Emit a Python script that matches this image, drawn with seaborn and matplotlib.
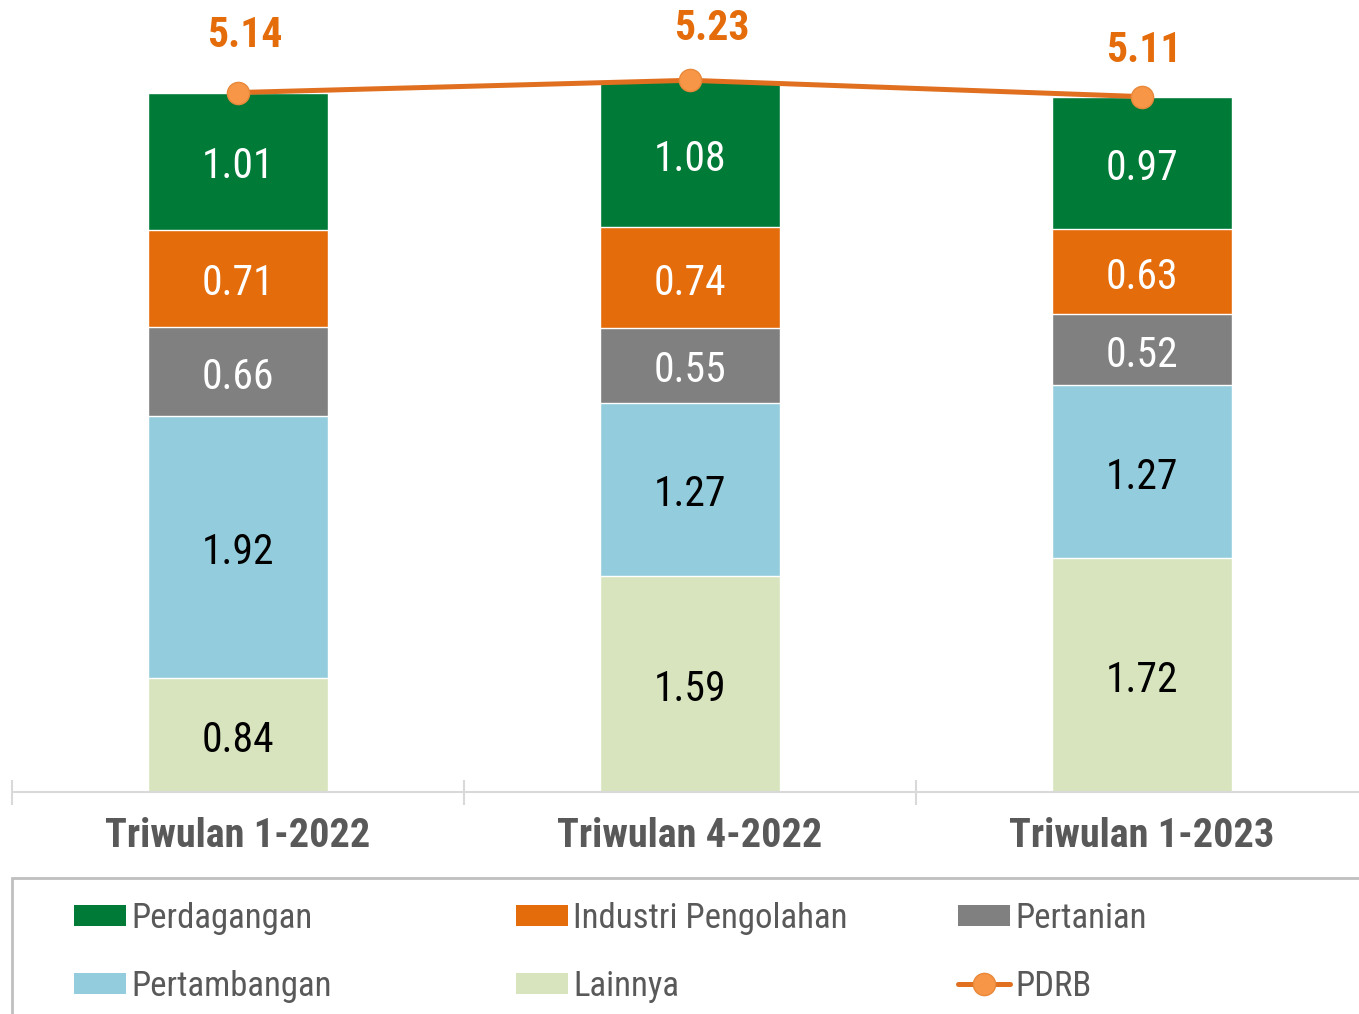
import numpy as np
import pandas as pd
import matplotlib
matplotlib.use("Agg")
import matplotlib.pyplot as plt
from matplotlib.patches import Patch, Rectangle
from matplotlib.lines import Line2D
from matplotlib import font_manager
import seaborn as sns

periods = ["Triwulan 1-2022", "Triwulan 4-2022", "Triwulan 1-2023"]
sectors = ["Lainnya", "Pertambangan", "Pertanian", "Industri Pengolahan", "Perdagangan"]
lainnya = [0.84, 1.59, 1.72]
pertambangan = [1.92, 1.27, 1.27]
pertanian = [0.66, 0.55, 0.52]
industri = [0.71, 0.74, 0.63]
perdagangan = [1.01, 1.08, 0.97]
pdrb = [5.14, 5.23, 5.11]

colors = {
    "Perdagangan": "#007A37",
    "Industri Pengolahan": "#E46C0A",
    "Pertanian": "#808080",
    "Pertambangan": "#93CDDD",
    "Lainnya": "#D7E4BD",
}
text_colors = {
    "Perdagangan": "white",
    "Industri Pengolahan": "white",
    "Pertanian": "white",
    "Pertambangan": "black",
    "Lainnya": "black",
}
LINE_COLOR = "#E07020"
MARKER_COLOR = "#F79646"
GREY_TEXT = "#595959"

sns.set_style("white")


def as_weight(w):
    if isinstance(w, str):
        return font_manager.weight_dict.get(w, 400)
    return int(w)


# look for a narrow face that also has a bold weight
weights = {}
for f in font_manager.fontManager.ttflist:
    if "Narrow" in f.name or "Condensed" in f.name:
        weights.setdefault(f.name, set()).add(as_weight(f.weight))
preferred = ["Liberation Sans Narrow", "Roboto Condensed", "Open Sans Condensed"]
narrow = None
for name in preferred + sorted(weights):
    if name in weights and max(weights[name]) >= 700 and 400 in weights[name]:
        narrow = name
        break
if narrow is None and weights:
    narrow = sorted(weights)[0]
family = narrow if narrow else "Liberation Sans"
scale = 1.0 if narrow else 0.88
plt.rcParams["font.family"] = [family, "DejaVu Sans"]

values = {
    "Lainnya": lainnya,
    "Pertambangan": pertambangan,
    "Pertanian": pertanian,
    "Industri Pengolahan": industri,
    "Perdagangan": perdagangan,
}
df = pd.DataFrame(values, index=periods)
cum = df.cumsum(axis=1)

fig = plt.figure(figsize=(13.59, 10.14), dpi=100)
ax = fig.add_axes([12 / 1359, (1014 - 792) / 1014, (1368 - 12) / 1359, 792 / 1014])

# draw cumulative totals from top layer down so each hides the next
for sector in reversed(sectors):
    plot_df = pd.DataFrame({"period": periods, "value": cum[sector].values})
    sns.barplot(data=plot_df, x="period", y="value", color=colors[sector],
                width=0.4, saturation=1, ax=ax, zorder=2)

for sector in sectors:
    bottoms = cum[sector] - df[sector]
    for i, (b, h) in enumerate(zip(bottoms, df[sector])):
        ax.annotate(f"{h:.2f}", (i, b + h / 2), xytext=(0, -4),
                    textcoords="offset points", ha="center", va="center",
                    fontsize=30 * scale, color=text_colors[sector], zorder=4)

x = np.arange(len(periods))
ax.plot(x, pdrb, color=LINE_COLOR, lw=3.6, marker="o", markersize=16,
        markerfacecolor=MARKER_COLOR, markeredgecolor="#E8883A",
        markeredgewidth=1, zorder=5, clip_on=False)
label_offsets = [(5, 41), (16, 37), (1, 33)]
for xi, v, off in zip(x, pdrb, label_offsets):
    ax.annotate(f"{v:.2f}", (xi, v), xytext=off, textcoords="offset points",
                ha="center", va="center", fontsize=30 * scale, fontweight="bold",
                color="#E46C0A")

ax.set_xlim(-0.5, 2.5)
ax.set_ylim(0, 5.82)
ax.set_yticks([])
ax.set_xlabel("")
ax.set_ylabel("")
for s in ["top", "right", "left"]:
    ax.spines[s].set_visible(False)
ax.spines["bottom"].set_color("#D9D9D9")
ax.spines["bottom"].set_linewidth(1.5)
ax.set_xticks(x)
ax.set_xticklabels(periods, fontsize=29 * scale, fontweight="bold", color=GREY_TEXT)
ax.tick_params(axis="x", which="major", length=0, pad=18)
ax.set_xticks([-0.5, 0.5, 1.5], minor=True)
ax.tick_params(axis="x", which="minor", bottom=True, direction="inout",
               length=18, width=1.5, color="#D9D9D9")

# legend frame
fig.patches.append(Rectangle((12 / 1359, -0.02), 1.1, (1014 - 878) / 1014 + 0.02,
                             transform=fig.transFigure, fill=False,
                             edgecolor="#BFBFBF", lw=2))


def patch(name):
    return Patch(facecolor=colors[name], edgecolor="none")


groups = [
    ([patch("Perdagangan"), patch("Pertambangan")], ["Perdagangan", "Pertambangan"], 74),
    ([patch("Industri Pengolahan"), patch("Lainnya")], ["Industri Pengolahan", "Lainnya"], 516),
    ([patch("Pertanian"),
      Line2D([], [], color=LINE_COLOR, lw=3.6, marker="o", markersize=16,
             markerfacecolor=MARKER_COLOR, markeredgecolor="#E8883A")],
     ["Pertanian", "PDRB"], 958),
]
fs_leg = 25 * scale
for handles, labels, xpix in groups:
    leg = fig.legend(handles, labels, loc="upper left",
                     bbox_to_anchor=(xpix / 1359, 1 - 902 / 1014),
                     frameon=False, fontsize=fs_leg, handlelength=52 / (fs_leg / 0.72),
                     handleheight=0.55, handletextpad=0.15, labelspacing=1.0,
                     borderpad=0, borderaxespad=0)
    for t in leg.get_texts():
        t.set_color(GREY_TEXT)

fig.savefig("out.png", dpi=100)
